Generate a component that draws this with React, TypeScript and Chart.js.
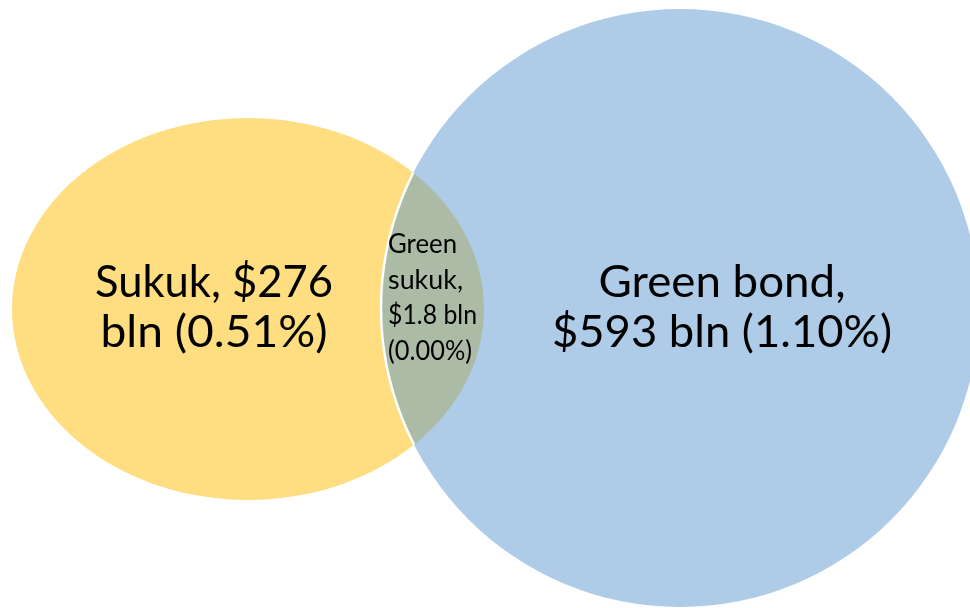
import React, { useEffect, useRef } from "react";
import { Chart, registerables } from "chart.js";

Chart.register(...registerables);

// ---- data ----
const setNames = ["Sukuk", "Green bond"];
const setValuesBln = [276, 593];
const setSharesPct = [0.51, 1.1];
const overlapName = ["Green", "sukuk"];
const overlapValueBln = 1.8;
const overlapSharePct = 0.0;

// ---- layout (scale units, identity with pixels) ----
const CENTERS = [
  { x: 248, y: 309 },
  { x: 680, y: 308 },
];
const RADII = [
  { rx: 236, ry: 191 },
  { rx: 299, ry: 299 },
];
const COLORS = ["#FEDE80", "#AECCE8"];
const OVERLAP_COLOR = "#ABBBA5";
const FONT = "Lato, 'Open Sans', sans-serif";

const vennPlugin = {
  id: "venn",
  beforeDatasetsDraw(chart: any) {
    const { ctx } = chart;
    const xs = chart.scales.x;
    const ys = chart.scales.y;
    const shapes = CENTERS.map((c, i) => {
      const cx = xs.getPixelForValue(c.x);
      const cy = ys.getPixelForValue(c.y);
      const rx = Math.abs(xs.getPixelForValue(c.x + RADII[i].rx) - cx);
      const ry = Math.abs(ys.getPixelForValue(c.y + RADII[i].ry) - cy);
      return { cx, cy, rx, ry };
    });
    const path = (s: any) => {
      ctx.beginPath();
      ctx.ellipse(s.cx, s.cy, s.rx, s.ry, 0, 0, Math.PI * 2);
      ctx.closePath();
    };
    ctx.save();
    shapes.forEach((s, i) => {
      path(s);
      ctx.fillStyle = COLORS[i];
      ctx.fill();
    });
    ctx.save();
    path(shapes[0]);
    ctx.clip();
    path(shapes[1]);
    ctx.fillStyle = OVERLAP_COLOR;
    ctx.fill();
    ctx.lineWidth = 2.5;
    ctx.strokeStyle = "#FFFFFF";
    ctx.stroke();
    ctx.restore();

    ctx.fillStyle = "#000000";
    ctx.textBaseline = "alphabetic";
    ctx.font = `45px ${FONT}`;
    ctx.textAlign = "center";
    const sukukLines = [
      `${setNames[0]}, $${setValuesBln[0]}`,
      `bln (${setSharesPct[0].toFixed(2)}%)`,
    ];
    const bondLines = [
      `${setNames[1]},`,
      `$${setValuesBln[1]} bln (${setSharesPct[1].toFixed(2)}%)`,
    ];
    const drawLines = (lines: string[], x: number, y0: number, lh: number, targetWidth: number[]) => {
      lines.forEach((t, k) => {
        const w = ctx.measureText(t).width;
        ctx.save();
        ctx.translate(x, y0 + k * lh);
        if (w > 0) ctx.scale(targetWidth[k] / w, 1);
        ctx.fillText(t, 0, 0);
        ctx.restore();
      });
    };
    drawLines(sukukLines, xs.getPixelForValue(214), ys.getPixelForValue(297), 50, [238, 227]);
    drawLines(bondLines, xs.getPixelForValue(722), ys.getPixelForValue(297), 50, [247, 340]);

    ctx.font = `26px ${FONT}`;
    ctx.textAlign = "left";
    const smallLines = [
      overlapName[0],
      `${overlapName[1]},`,
      `$${overlapValueBln} bln`,
      `(${overlapSharePct.toFixed(2)}%)`,
    ];
    const smallW = [69, 75, 89, 84];
    smallLines.forEach((t, k) => {
      const w = ctx.measureText(t).width;
      ctx.save();
      ctx.translate(xs.getPixelForValue(388), ys.getPixelForValue(253) + k * 35.5);
      ctx.scale(smallW[k] / w, 1);
      ctx.fillText(t, 0, 0);
      ctx.restore();
    });
    ctx.restore();
  },
};

export default function App() {
  const ref = useRef<HTMLCanvasElement | null>(null);
  useEffect(() => {
    document.body.style.margin = "0";
    if (!ref.current) return;
    const chart = new Chart(ref.current, {
      type: "scatter",
      data: {
        datasets: setNames.map((n, i) => ({
          label: n,
          data: [{ x: CENTERS[i].x, y: CENTERS[i].y }],
          pointRadius: 0,
          backgroundColor: COLORS[i],
        })),
      },
      options: {
        responsive: false,
        animation: false,
        layout: { padding: 0 },
        plugins: { legend: { display: false }, tooltip: { enabled: false } },
        scales: {
          x: { type: "linear", min: 0, max: 970, display: false },
          y: { type: "linear", min: 0, max: 608, reverse: true, display: false },
        },
      },
      plugins: [vennPlugin],
    });
    return () => chart.destroy();
  }, []);
  return (
    <div style={{ width: 970, height: 608 }}>
      <canvas ref={ref} width={970} height={608} style={{ display: "block" }} />
    </div>
  );
}
